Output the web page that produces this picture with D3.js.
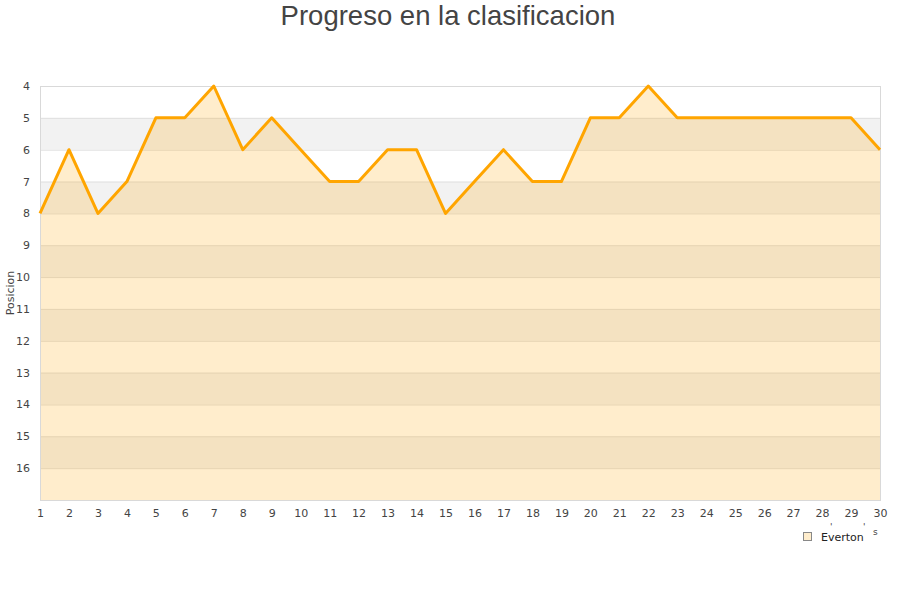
<!DOCTYPE html>
<html><head><meta charset="utf-8">
<script src="https://cdn.jsdelivr.net/npm/d3@7"></script>
<style>body{margin:0;background:#fff}svg{display:block}</style>
</head><body><svg id="c" width="900" height="600"></svg>
<script>
const rounds = d3.range(1, 31);
const positions = [8,6,8,7,5,5,4,6,5,6,7,7,6,6,8,7,6,7,7,5,5,4,5,5,5,5,5,5,5,6];
const yTicks = [4,5,6,7,8,9,10,11,12,13,14,15,16];
const teamName = "Everton";
const titleText = "Progreso en la clasificacion";
const yLabel = "Posicion";

const svg = d3.select("#c");
const m = {l:40, r:20, t:86, b:100};
const W = 900, H = 600;
const x = d3.scaleLinear().domain([1,30]).range([m.l, W-m.r]);
const y = d3.scaleLinear().domain([4,17]).range([m.t, H-m.b]);
const font = "DejaVu Sans, sans-serif";

// bands
const bands = d3.range(5, 17, 2);
svg.append("g").selectAll("rect").data(bands).join("rect")
  .attr("x", x(1)).attr("width", x(30)-x(1))
  .attr("y", d=>y(d)).attr("height", d=>y(d+1)-y(d))
  .attr("fill", "#f2f2f2");
// grid lines
svg.append("g").selectAll("line").data(d3.range(5,17)).join("line")
  .attr("x1", x(1)).attr("x2", x(30))
  .attr("y1", d=>y(d)+0.5).attr("y2", d=>y(d)+0.5)
  .attr("stroke", "#e0e0e0").attr("stroke-width", 1);

// area
const area = d3.area().x((d,i)=>x(rounds[i])).y0(y(17)).y1(d=>y(d));
svg.append("path").datum(positions).attr("d", area)
  .attr("fill", "#ffa500").attr("fill-opacity", 0.2);

// border
svg.append("rect").attr("x", x(1)+0.5).attr("y", y(4)+0.5)
  .attr("width", x(30)-x(1)).attr("height", y(17)-y(4))
  .attr("fill", "none").attr("stroke", "#d9d9d9");

// line
const line = d3.line().x((d,i)=>x(rounds[i])).y(d=>y(d));
svg.append("path").datum(positions).attr("d", line)
  .attr("fill", "none").attr("stroke", "#ffa500").attr("stroke-width", 3)
  .attr("stroke-linejoin", "round");

// axes
const yAxis = d3.axisLeft(y).tickValues(yTicks).tickSize(0).tickPadding(10);
const ga = svg.append("g").attr("transform", `translate(${x(1)},0)`).call(yAxis);
ga.select(".domain").remove();
ga.selectAll("text").attr("font-family", font).attr("font-size", 11).attr("fill", "#444");

const xAxis = d3.axisBottom(x).tickValues(rounds).tickFormat(d3.format("d")).tickSize(0).tickPadding(9);
const gx = svg.append("g").attr("transform", `translate(0,${y(17)})`).call(xAxis);
gx.select(".domain").remove();
gx.selectAll("text").attr("font-family", font).attr("font-size", 11).attr("fill", "#444");

// title
svg.append("text").attr("x", 448).attr("y", 25).attr("text-anchor", "middle")
  .attr("font-family", "Liberation Sans, Arial, sans-serif").attr("font-size", 27.5)
  .attr("fill", "#444").text(titleText);

// y label
svg.append("text").attr("transform", "translate(14,293) rotate(-90)")
  .attr("text-anchor", "middle").attr("font-family", font).attr("font-size", 11)
  .attr("fill", "#444").text(yLabel);

// legend
svg.append("rect").attr("x", 803.5).attr("y", 532.5).attr("width", 8).attr("height", 8)
  .attr("fill", "#ffedcc").attr("stroke", "#888");
svg.append("text").attr("x", 821).attr("y", 541).attr("font-family", font)
  .attr("font-size", 11).attr("fill", "#222").text(teamName);
svg.append("text").attr("x", 873).attr("y", 535).attr("font-family", font)
  .attr("font-size", 9).attr("fill", "#444").text("s");
svg.append("text").attr("x", 830).attr("y", 530).attr("font-family", font)
  .attr("font-size", 9).attr("fill", "#444").text("'");
svg.append("text").attr("x", 863).attr("y", 530).attr("font-family", font)
  .attr("font-size", 9).attr("fill", "#444").text("'");
</script></body></html>
